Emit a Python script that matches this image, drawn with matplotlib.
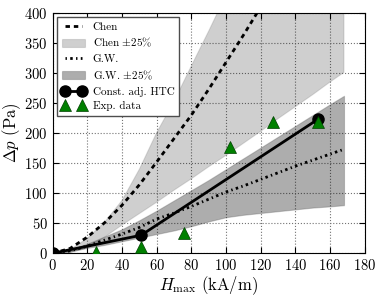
import matplotlib
matplotlib.use("Agg")
import matplotlib.pyplot as plt

plt.rcParams['font.family'] = 'serif'
plt.rcParams['font.serif'] = ['cmr10', 'DejaVu Serif']
plt.rcParams['mathtext.fontset'] = 'cm'
plt.rcParams['axes.unicode_minus'] = False
plt.rcParams['axes.formatter.use_mathtext'] = True

# ---- data ----
h_chen = [0, 10, 20, 30, 40, 50, 60, 70, 80, 90, 100, 110, 120]
dp_chen = [0, 8, 27, 51, 80, 114, 152, 191, 230, 273, 318, 363, 410]

h_band = [0, 10, 20, 30, 40, 50, 60, 70, 80, 90, 100, 110, 120, 130, 140, 150, 160, 168]
chen_lo = [0, 1, 9, 27, 47, 66, 85, 105, 124, 144, 163, 183, 203, 224, 244, 264, 285, 301]
chen_hi = [0, 6, 25, 52, 88, 140, 201, 253, 312, 370, 430, 490, 550, 610, 670, 730, 790, 840]
gw = [0, 4, 12, 22, 32, 43, 57, 67, 78, 90, 102, 112, 123, 134, 145, 155, 165, 173]
gw_lo = [0, 3, 9, 14, 20, 26, 32, 38, 45, 53, 60, 64, 67, 70, 73, 76, 78, 80]
gw_hi = [0, 6, 16, 28, 40, 55, 71, 88, 105, 122, 140, 158, 176, 194, 212, 230, 248, 262]

h_htc = [0, 51, 153]
dp_htc = [0, 30, 223]

h_exp = [25, 51, 76, 102, 127, 153]
dp_exp = [2, 11, 33, 177, 219, 219]

fig = plt.figure(figsize=(3.82, 2.99), dpi=100)
ax = fig.add_axes([0.138, 0.153, 0.817, 0.804])

ax.plot(h_chen, dp_chen, color='k', lw=2, dashes=[1.6, 1.4], label='Chen', zorder=4)
ax.fill_between(h_band, chen_lo, chen_hi, facecolor='k', alpha=0.19,
                edgecolor='0.35', lw=0.8, label=r'Chen $\pm 25\%$', zorder=2)
ax.plot(h_band, gw, color='k', lw=2, dashes=[0.5, 1.2, 0.9, 1.2], label='G.W.', zorder=4)
ax.fill_between(h_band, gw_lo, gw_hi, facecolor='k', alpha=0.32,
                edgecolor='0.35', lw=0.8, label=r'G.W. $\pm 25\%$', zorder=2)
ax.plot(h_htc, dp_htc, color='k', lw=2, marker='o', ms=8, label='Const. adj. HTC', zorder=5)
ax.plot(h_exp, dp_exp, linestyle='none', marker='^', ms=8, color='g', mec='#004000',
        mew=0.5, label='Exp. data', zorder=6)

ax.set_xlim(0, 180)
ax.set_ylim(0, 400)
ax.set_xticks(range(0, 181, 20))
ax.set_yticks(range(0, 401, 50))
ax.tick_params(direction='in', top=True, right=True, labelsize=10.5, length=4)
ax.grid(True, linestyle=':', color='0.45', lw=0.8)
ax.set_axisbelow(True)

ax.set_xlabel(r'$H_{\max}$ (kA/m)', fontsize=12, labelpad=1)
ax.set_ylabel(r'$\Delta p$ (Pa)', fontsize=12, labelpad=1)

leg = ax.legend(loc='upper left', fontsize=8, numpoints=2, fancybox=False,
                framealpha=1, edgecolor='0.3', handlelength=2.1, handletextpad=0.7,
                borderaxespad=0.4, borderpad=0.4, labelspacing=0.42)
leg.get_frame().set_linewidth(1.0)

fig.savefig('out.png', dpi=100)
